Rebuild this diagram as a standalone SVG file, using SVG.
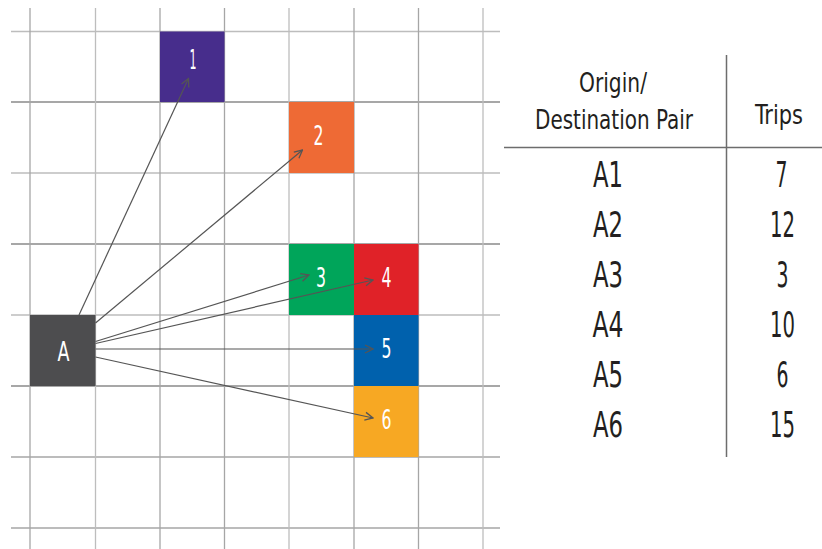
<svg xmlns="http://www.w3.org/2000/svg" width="822" height="549" viewBox="0 0 822 549">
<defs>
<style>
.gl{stroke:#bdbdbd;stroke-width:1.3;fill:none}
.gd{stroke:#8a8a8a;stroke-width:1.3;fill:none}
.gm{stroke:#a6a6a6;stroke-width:1.3;fill:none}
.conn{stroke:#555555;stroke-width:1.2;fill:none;marker-end:url(#arr)}
.nl{fill:#ffffff;font-family:"Liberation Sans Narrow","DejaVu Sans Condensed","Liberation Sans",sans-serif;font-size:26px;text-anchor:middle}
.tb{fill:#231f20;font-family:"Liberation Sans Narrow","DejaVu Sans Condensed","Liberation Sans",sans-serif;text-anchor:middle}
.tl{stroke:#6d6d6d;stroke-width:1.5;fill:none}
</style>
<marker id="arr" viewBox="0 0 10 10" refX="9" refY="5" markerWidth="10" markerHeight="10" markerUnits="userSpaceOnUse" orient="auto">
<path d="M1,1 L9,5 L1,9" fill="none" stroke="#555555" stroke-width="1.3"/>
</marker>
</defs>
<rect width="822" height="549" fill="#ffffff"/>
<g id="grid">
<line class="gl" x1="11" y1="31.5" x2="500" y2="31.5"/>
<line class="gd" x1="11" y1="102" x2="500" y2="102"/>
<line class="gl" x1="11" y1="173" x2="500" y2="173"/>
<line class="gd" x1="11" y1="244" x2="500" y2="244"/>
<line class="gl" x1="11" y1="315" x2="500" y2="315"/>
<line class="gd" x1="11" y1="386" x2="500" y2="386"/>
<line class="gm" x1="11" y1="457" x2="500" y2="457"/>
<line class="gm" x1="11" y1="528" x2="500" y2="528"/>
<line class="gm" x1="30" y1="8" x2="30" y2="549"/>
<line class="gl" x1="95.5" y1="8" x2="95.5" y2="549"/>
<line class="gm" x1="160" y1="8" x2="160" y2="549"/>
<line class="gm" x1="224.5" y1="8" x2="224.5" y2="549"/>
<line class="gl" x1="289" y1="8" x2="289" y2="549"/>
<line class="gm" x1="354" y1="8" x2="354" y2="549"/>
<line class="gm" x1="418.5" y1="8" x2="418.5" y2="549"/>
<line class="gl" x1="483" y1="8" x2="483" y2="549"/>
</g>
<g id="node-1"><rect x="160" y="31.5" width="64.5" height="70.5" fill="#472d8c"/><text class="nl" x="193" y="68.5" textLength="7" lengthAdjust="spacingAndGlyphs">1</text></g>
<g id="node-2"><rect x="289" y="102" width="65" height="71" fill="#ee6a35"/><text class="nl" x="318.5" y="145" textLength="10" lengthAdjust="spacingAndGlyphs">2</text></g>
<g id="node-3"><rect x="289" y="244" width="65" height="71" fill="#00a55a"/><text class="nl" x="321" y="287" textLength="10" lengthAdjust="spacingAndGlyphs">3</text></g>
<g id="node-4"><rect x="354" y="244" width="64.5" height="71" fill="#e02228"/><text class="nl" x="386.5" y="287" textLength="10" lengthAdjust="spacingAndGlyphs">4</text></g>
<g id="node-5"><rect x="354" y="315" width="64.5" height="71" fill="#0061ad"/><text class="nl" x="386.5" y="358" textLength="10" lengthAdjust="spacingAndGlyphs">5</text></g>
<g id="node-6"><rect x="354" y="386" width="64.5" height="71" fill="#f7a823"/><text class="nl" x="386.5" y="429" textLength="10" lengthAdjust="spacingAndGlyphs">6</text></g>
<g id="node-A"><rect x="30" y="315" width="65.5" height="71" fill="#4d4d4f"/><text class="nl" x="63.5" y="360.5" textLength="12" lengthAdjust="spacingAndGlyphs">A</text></g>
<g id="connectors">
<line class="conn" x1="79" y1="315" x2="188.5" y2="78.5"/>
<line class="conn" x1="95.5" y1="323" x2="302.5" y2="150"/>
<line class="conn" x1="95.5" y1="341.5" x2="309" y2="275"/>
<line class="conn" x1="95.5" y1="343.5" x2="373" y2="280"/>
<line class="conn" x1="95.5" y1="349" x2="373" y2="349"/>
<line class="conn" x1="95.5" y1="357" x2="373" y2="418"/>
</g>
<g id="table">
<line class="tl" x1="504" y1="147.5" x2="822" y2="147.5"/>
<line class="tl" x1="726.5" y1="55" x2="726.5" y2="457"/>
<text class="tb" x="613" y="92" font-size="27" textLength="68" lengthAdjust="spacingAndGlyphs">Origin/</text>
<text class="tb" x="614" y="128.5" font-size="27" textLength="158" lengthAdjust="spacingAndGlyphs">Destination Pair</text>
<text class="tb" x="779" y="123.5" font-size="27" textLength="48" lengthAdjust="spacingAndGlyphs">Trips</text>
<text class="tb" x="608" y="187" font-size="36" textLength="30" lengthAdjust="spacingAndGlyphs">A1</text>
<text class="tb" x="608" y="237" font-size="36" textLength="30" lengthAdjust="spacingAndGlyphs">A2</text>
<text class="tb" x="608" y="287" font-size="36" textLength="30" lengthAdjust="spacingAndGlyphs">A3</text>
<text class="tb" x="608" y="337" font-size="36" textLength="31" lengthAdjust="spacingAndGlyphs">A4</text>
<text class="tb" x="608" y="387" font-size="36" textLength="30" lengthAdjust="spacingAndGlyphs">A5</text>
<text class="tb" x="608" y="437" font-size="36" textLength="30" lengthAdjust="spacingAndGlyphs">A6</text>
<text class="tb" x="781.5" y="187" font-size="36" textLength="12" lengthAdjust="spacingAndGlyphs">7</text>
<text class="tb" x="782.5" y="237" font-size="36" textLength="25" lengthAdjust="spacingAndGlyphs">12</text>
<text class="tb" x="782.5" y="287" font-size="36" textLength="12" lengthAdjust="spacingAndGlyphs">3</text>
<text class="tb" x="782.5" y="337" font-size="36" textLength="25" lengthAdjust="spacingAndGlyphs">10</text>
<text class="tb" x="782.5" y="387" font-size="36" textLength="12" lengthAdjust="spacingAndGlyphs">6</text>
<text class="tb" x="782.5" y="437" font-size="36" textLength="25" lengthAdjust="spacingAndGlyphs">15</text>
</g>
</svg>
